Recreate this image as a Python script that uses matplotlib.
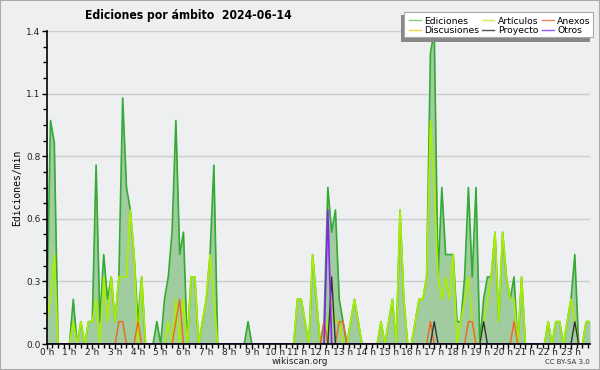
import matplotlib
matplotlib.use("Agg")
import matplotlib.pyplot as plt
from matplotlib.lines import Line2D
from matplotlib.patches import Rectangle
import numpy as np

# 10-minute bins (edits per minute), 144 bins for the day
ediciones = [
    0.1, 1.0, 0.9, 0, 0, 0,
    0, 0.2, 0, 0.1, 0, 0.1,
    0.1, 0.8, 0.1, 0.4, 0.2, 0.3,
    0.1, 0.3, 1.1, 0.7, 0.6, 0.4,
    0.1, 0.3, 0, 0, 0, 0.1,
    0, 0.2, 0.3, 0.5, 1.0, 0.4,
    0.5, 0, 0.3, 0.3, 0, 0.1,
    0.2, 0.4, 0.8, 0, 0, 0,
    0, 0, 0, 0, 0, 0.1,
    0, 0, 0, 0, 0, 0,
    0, 0, 0, 0, 0, 0,
    0.2, 0.2, 0.1, 0, 0.4, 0.2,
    0, 0.1, 0.7, 0.5, 0.6, 0.2,
    0.1, 0, 0.1, 0.2, 0.1, 0,
    0, 0, 0, 0, 0.1, 0,
    0.1, 0.2, 0, 0.6, 0.2, 0,
    0, 0.1, 0.2, 0.2, 0.3, 1.3,
    1.4, 0.3, 0.7, 0.4, 0.4, 0.4,
    0.1, 0.1, 0.3, 0.7, 0.3, 0.7,
    0, 0.2, 0.3, 0.3, 0.5, 0.1,
    0.5, 0.3, 0.2, 0.3, 0, 0.3,
    0, 0, 0, 0, 0, 0,
    0.1, 0, 0.1, 0.1, 0, 0.1,
    0.2, 0.4, 0, 0, 0.1, 0.1,
]
articulos = [
    0.1, 0.2, 0.4, 0, 0, 0,
    0, 0.1, 0, 0.1, 0, 0.1,
    0.1, 0.2, 0, 0.3, 0.1, 0.3,
    0.1, 0.3, 0.3, 0.3, 0.6, 0.4,
    0, 0.3, 0, 0, 0, 0,
    0, 0, 0.1, 0, 0.2, 0,
    0.2, 0, 0.3, 0.3, 0, 0.1,
    0.2, 0.4, 0.2, 0, 0, 0,
    0, 0, 0, 0, 0, 0,
    0, 0, 0, 0, 0, 0,
    0, 0, 0, 0, 0, 0,
    0.2, 0.2, 0.1, 0, 0.4, 0.2,
    0, 0, 0.1, 0.2, 0.1, 0.1,
    0, 0, 0.1, 0.2, 0.1, 0,
    0, 0, 0, 0, 0.1, 0,
    0.1, 0.2, 0, 0.6, 0.2, 0,
    0, 0.1, 0.2, 0.2, 0.3, 1.0,
    0.7, 0.3, 0.2, 0.3, 0.2, 0.4,
    0, 0.1, 0.2, 0.3, 0.1, 0,
    0, 0.1, 0.2, 0.3, 0.5, 0.1,
    0.5, 0.3, 0.2, 0.2, 0, 0.3,
    0, 0, 0, 0, 0, 0,
    0.1, 0, 0.1, 0.1, 0, 0.1,
    0.2, 0.1, 0, 0, 0.1, 0.1,
]
anexos_bins = [19, 20, 24, 34, 35, 73, 77, 78, 101, 111, 112, 123]
anexos_vals = [0.1, 0.1, 0.1, 0.1, 0.2, 0.1, 0.1, 0.1, 0.1, 0.1, 0.1, 0.1]
proyecto_bins = [75, 102, 115, 139]
proyecto_vals = [0.3, 0.1, 0.1, 0.1]
otros_bins = [74]
otros_vals = [0.6]
discusiones_bins = []
discusiones_vals = []

hour_labels = [f"{h} h" for h in range(24)]
ytick_vals = [0, 0.28, 0.56, 0.84, 1.12, 1.4]
ytick_labels = ["0.0", "0.3", "0.6", "0.8", "1.1", "1.4"]

n = len(ediciones)
x = np.arange(n) / 6.0


def sparse(bins, vals):
    arr = np.zeros(n)
    for b, v in zip(bins, vals):
        arr[b] = v
    return arr


anexos = sparse(anexos_bins, anexos_vals)
proyecto = sparse(proyecto_bins, proyecto_vals)
otros = sparse(otros_bins, otros_vals)
discusiones = sparse(discusiones_bins, discusiones_vals)

BG = "#eeeff1"
C_ED = "#33aa33"
C_FILL = "#a0cca0"
C_ART = "#aaee00"
C_ANX = "#ee6622"
C_DIS = "#ffcc33"
C_PRO = "#333333"
C_OTR = "#8822ee"

plt.rcParams["font.family"] = ["DejaVu Sans"]

fig = plt.figure(figsize=(6, 3.7), dpi=100, facecolor=BG)
W, H = 600, 370
L, R, T, B = 46.7, 590, 31, 344
ax = fig.add_axes([L / W, 1 - B / H, (R - L) / W, (B - T) / H])
ax.set_facecolor(BG)

ax.fill_between(x, ediciones, 0, color=C_FILL, lw=0, zorder=2)
ax.plot(x, ediciones, color=C_ED, lw=1.2, zorder=3)
ax.plot(x, discusiones, color=C_DIS, lw=1.1, zorder=3)
ax.plot(x, articulos, color=C_ART, lw=1.2, zorder=4)
ax.plot(x, anexos, color=C_ANX, lw=1.0, zorder=5)
ax.plot(x, proyecto, color=C_PRO, lw=1.0, zorder=5)
ax.plot(x, otros, color=C_OTR, lw=1.2, zorder=6)

ax.set_xlim(0, (n - 1) / 6.0)
ax.set_ylim(0, 1.4)

ax.set_xticks(range(24))
ax.set_xticklabels(hour_labels, fontsize=6.5, color="#222222")
ax.set_xticks(np.arange(0, 24, 0.25), minor=True)
ax.set_yticks(ytick_vals)
ax.set_yticklabels(ytick_labels, fontsize=6.5, color="#222222")
ax.set_yticks(np.arange(0, 1.4001, 0.07), minor=True)
ax.tick_params(axis="both", which="major", length=3.5, width=1, color="black")
ax.tick_params(axis="x", which="major", pad=-0.5)
ax.tick_params(axis="y", which="major", pad=1)
ax.tick_params(axis="both", which="minor", length=3, width=1, color="black")

ax.yaxis.grid(True, which="major", color="#cccccc", lw=1)
ax.set_axisbelow(True)
for s in ["top", "right"]:
    ax.spines[s].set_visible(False)
for s in ["left", "bottom"]:
    ax.spines[s].set_color("black")
    ax.spines[s].set_linewidth(1.2)
    ax.spines[s].set_zorder(7)

ax.set_ylabel("Ediciones/min", family="DejaVu Sans Mono", fontsize=7, labelpad=3)

fig.text(188 / W, 1 - 15 / H, "Ediciones por ámbito  2024-06-14", ha="center", va="center",
         fontsize=8.7, fontweight="bold", fontstretch="condensed")
fig.text(300 / W, 1 - 362 / H, "wikiscan.org", ha="center", va="center", fontsize=6.5, color="#222222")
fig.text(590 / W, 1 - 362 / H, "CC BY-SA 3.0", ha="right", va="center", fontsize=5, color="#333333")

# legend box with shadow
fig.patches.append(Rectangle((401 / W, 1 - 42 / H), 189 / W, 27 / H, transform=fig.transFigure,
                             facecolor="#888888", edgecolor="none", zorder=8))
fig.patches.append(Rectangle((404 / W, 1 - 37 / H), 189 / W, 25 / H, transform=fig.transFigure,
                             facecolor="white", edgecolor="#aaaaaa", lw=0.8, zorder=9))
handles = [
    Line2D([], [], color="#88cc88", lw=1), Line2D([], [], color="#ffcc44", lw=1),
    Line2D([], [], color="#ccee66", lw=1), Line2D([], [], color="#555555", lw=1),
    Line2D([], [], color="#ee8855", lw=1), Line2D([], [], color="#9955ee", lw=1),
]
labels = ["Ediciones", "Discusiones", "Artículos", "Proyecto", "Anexos", "Otros"]
leg = fig.legend(handles, labels, ncol=3, frameon=False, fontsize=6.7, handlelength=1.3,
                 handletextpad=0.4, columnspacing=0.3, labelspacing=0.02,
                 loc="upper left", bbox_to_anchor=(403 / W, 1 - 11 / H), borderpad=0.1)
leg.set_zorder(10)

fig.patches.append(Rectangle((0, 0), 1, 1, transform=fig.transFigure, facecolor="none",
                             edgecolor="#aaaaaa", lw=1.5, zorder=20))

fig.savefig("out.png", dpi=100, facecolor=BG)
